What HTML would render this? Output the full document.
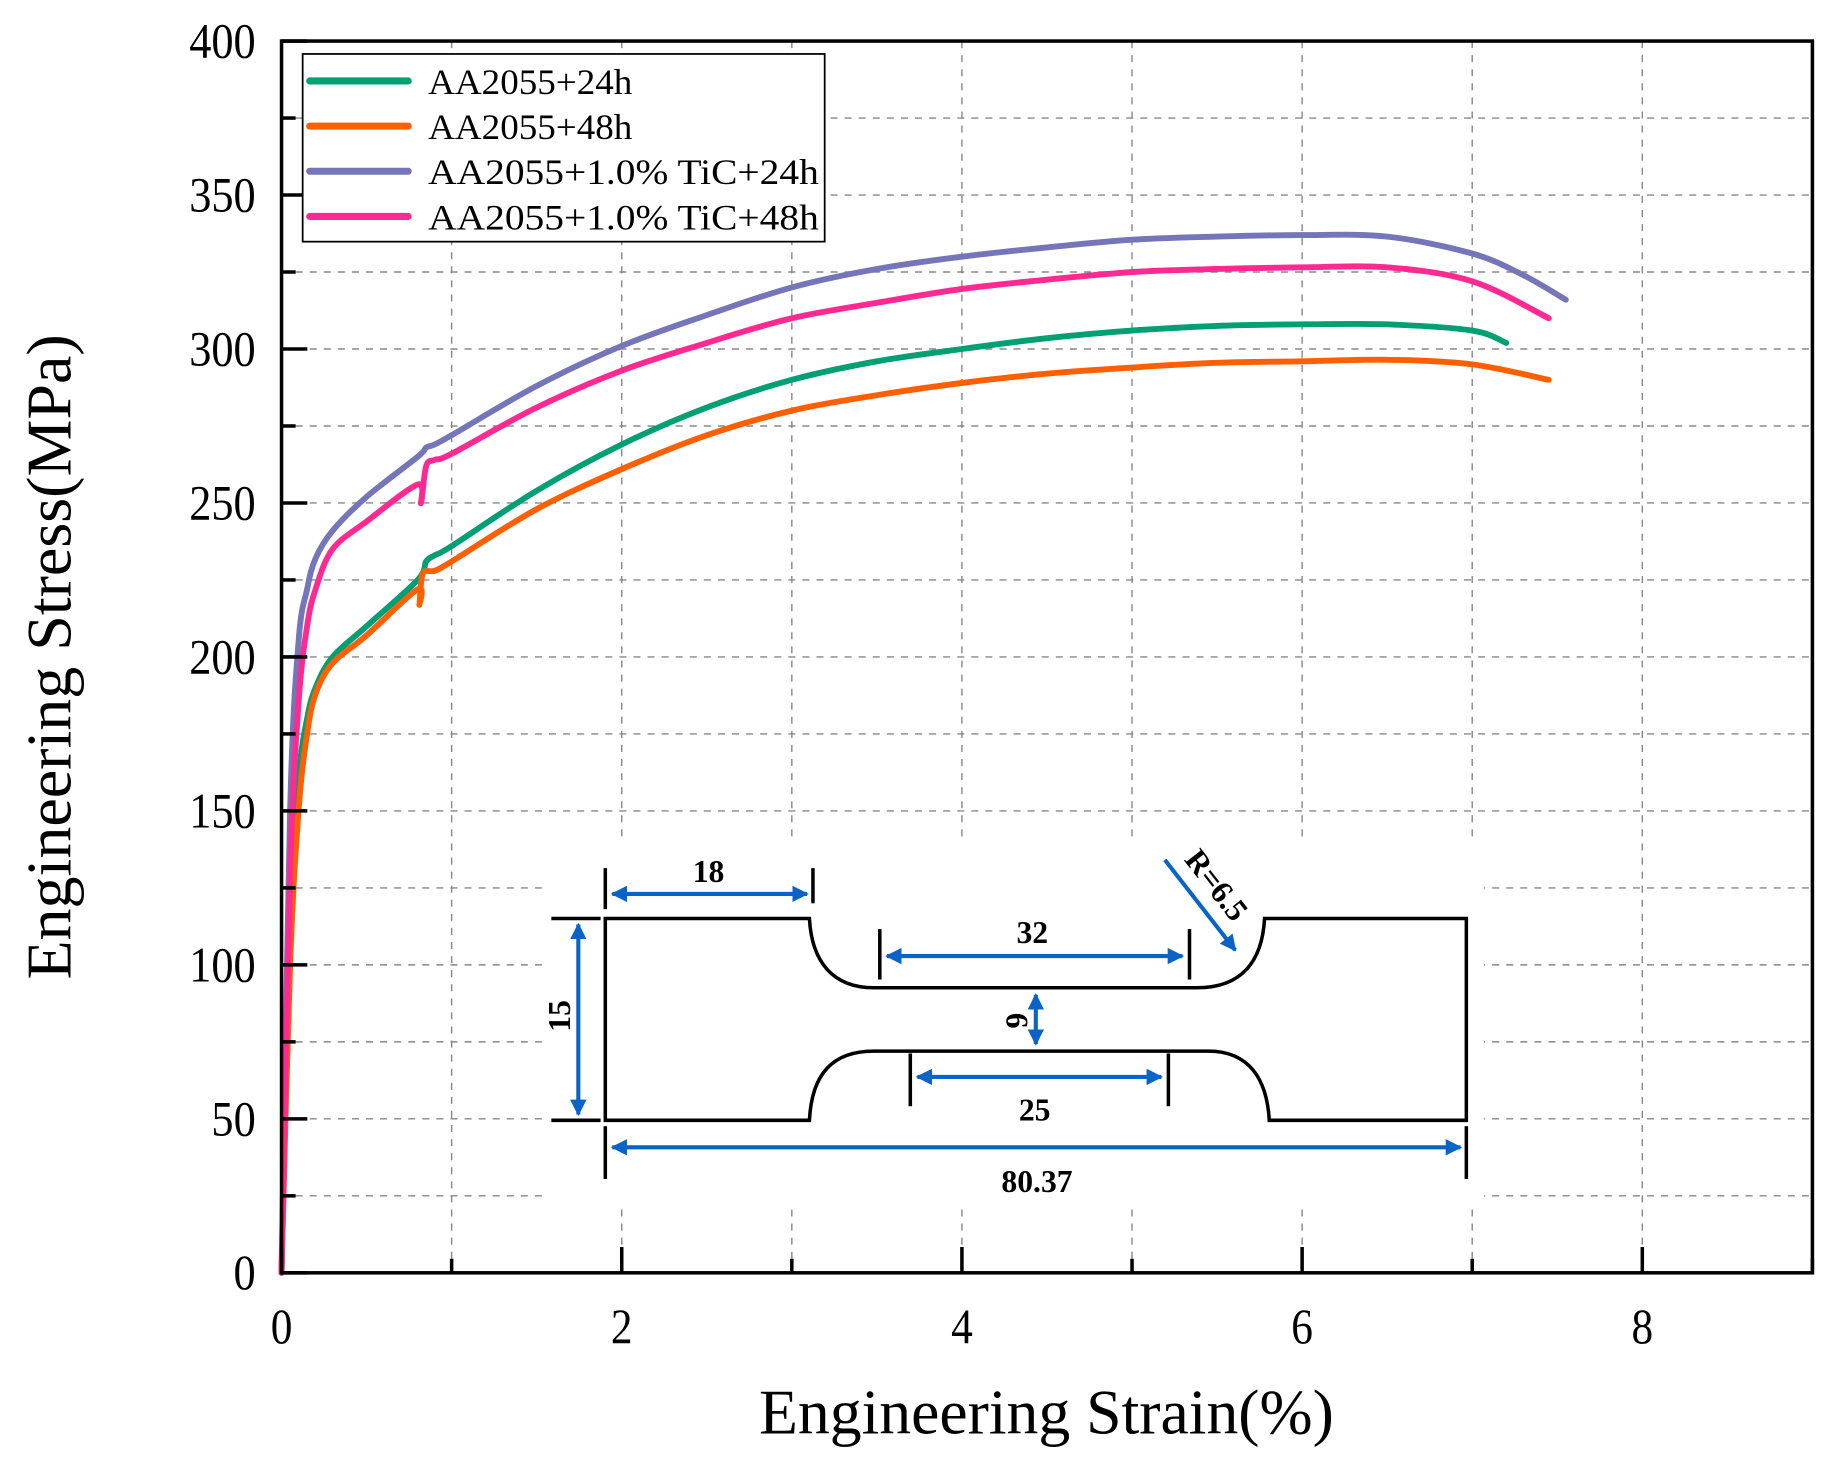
<!DOCTYPE html>
<html><head><meta charset="utf-8"><style>
html,body{margin:0;padding:0;background:#fff}
svg{display:block}
text{font-family:"Liberation Serif",serif}
</style></head><body>
<svg id="chart" width="1830" height="1457" viewBox="0 0 1560 1242" preserveAspectRatio="none" xmlns="http://www.w3.org/2000/svg">
<defs>
<marker id="ah" viewBox="0 0 10 10" refX="9" refY="5" markerWidth="4" markerHeight="4" orient="auto-start-reverse"><path d="M0 0 L10 5 L0 10 Z" fill="#0a64c8"/></marker>
</defs>
<rect width="1560" height="1242" fill="#fff"/>
<g id="grid"></g>
<g id="inset">
<rect x="462" y="715" width="803" height="310" fill="#fff"/>
<g fill="none" stroke="#000" stroke-width="3">
<path d="M516 783 V955 H690 C692 915 710 896 745 896 H1030 C1065 896 1080 920 1082 955 H1250 V783 H1078 C1076 818 1060 842 1020 842 H745 C710 842 692 820 690 783 Z"/>
<line x1="516" y1="740" x2="516" y2="775"/><line x1="693" y1="740" x2="693" y2="770"/>
<line x1="470" y1="783" x2="512" y2="783"/><line x1="470" y1="955" x2="512" y2="955"/>
<line x1="750" y1="792" x2="750" y2="835"/><line x1="1014" y1="792" x2="1014" y2="835"/>
<line x1="776" y1="898" x2="776" y2="943"/><line x1="996" y1="898" x2="996" y2="943"/>
<line x1="516" y1="960" x2="516" y2="1005"/><line x1="1250" y1="960" x2="1250" y2="1005"/>
</g>
<g stroke="#0a64c8" stroke-width="3.5" fill="none" marker-start="url(#ah)" marker-end="url(#ah)">
<line x1="522" y1="762" x2="688" y2="762"/>
<line x1="493" y1="788" x2="493" y2="950"/>
<line x1="756" y1="815" x2="1008" y2="815"/>
<line x1="883" y1="848" x2="883" y2="890"/>
<line x1="782" y1="918" x2="990" y2="918"/>
<line x1="522" y1="978" x2="1245" y2="978"/>
</g>
<line x1="993" y1="733" x2="1053" y2="810" stroke="#0a64c8" stroke-width="3.5" marker-end="url(#ah)"/>
<g font-weight="bold" font-size="27" text-anchor="middle" fill="#000">
<text x="604" y="752">18</text>
<text x="880" y="804">32</text>
<text x="882" y="955">25</text>
<text x="884" y="1016">80.37</text>
<text transform="translate(486,866) rotate(-90)">15</text>
<text transform="translate(858,870) rotate(90)">6</text>
<text transform="translate(1030,760) rotate(52)">R=6.5</text>
</g>
</g>
<g id="series"></g>
<g id="axes"></g>
<g id="legend">
<rect x="258" y="46" width="445" height="160" fill="#fff" stroke="#000" stroke-width="1.5"/>
</g>
</svg>
<script>
const categoriesX=[0,2,4,6,8];
const ticksY=[0,50,100,150,200,250,300,350,400];
const seriesNames=["AA2055+24h","AA2055+48h","AA2055+1.0% TiC+24h","AA2055+1.0% TiC+48h"];
const seriesColors=["#009f74","#ff5f00","#7575b9","#ff2a91"];
const greenX=[0,0.05,0.1,0.15,0.2,0.3,0.5,0.8,0.85,0.9,1,1.5,2,2.5,3,3.5,4,4.5,5,5.5,6,6.5,7,7.2];
const greenY=[0,110,160,180,190,200,210,225,231,233,236,254,269,281,290,296,300,303.5,306,307.5,308,308,306,302];
const orangeX=[0,0.05,0.1,0.15,0.2,0.3,0.5,0.8,0.81,0.83,0.9,1,1.5,2,2.5,3,3.5,4,4.5,5,5.5,6,6.5,7,7.45];
const orangeY=[0,100,150,175,188,198,207,222,217,227,228,231,248,261,272,280,285,289,292,294,295.5,296,296.5,295,290];
const purpleX=[0,0.05,0.1,0.15,0.2,0.3,0.5,0.8,0.85,0.9,1,1.5,2,2.5,3,3.5,4,4.5,5,5.5,6,6.5,7,7.3,7.55];
const purpleY=[0,150,205,222,232,241,252,265,268,269,272,288,301,311,320,326,330,333,335.5,336.5,337,336.5,331,324,316];
const pinkX=[0,0.05,0.1,0.15,0.2,0.3,0.5,0.8,0.82,0.85,0.9,1,1.5,2,2.5,3,3.5,4,4.5,5,5.5,6,6.5,7,7.45];
const pinkY=[0,130,185,210,222,235,244,256,250,262,264,266,281,293,302,310,315,319.5,322.5,325,326,326.5,326.5,322,310];

const NS="http://www.w3.org/2000/svg";
const L=240,R=1545,T=35,B=1085,XMAX=9,YMAX=400;
const sx=v=>L+v/XMAX*(R-L), sy=v=>B-v/YMAX*(B-T);
function mk(tag,attrs,parent){const e=document.createElementNS(NS,tag);for(const k in attrs)e.setAttribute(k,attrs[k]);parent.appendChild(e);return e;}
const grid=document.getElementById('grid'),axes=document.getElementById('axes'),ser=document.getElementById('series'),leg=document.getElementById('legend');
for(let v=1;v<XMAX;v++){const g=mk('line',{x1:sx(v),x2:sx(v),y1:T,y2:B,stroke:'#888','stroke-width':1.2,'stroke-dasharray':'6,6'},grid);

}
for(let v=25;v<YMAX;v+=25){const g=mk('line',{x1:L,x2:R,y1:sy(v),y2:sy(v),stroke:'#888','stroke-width':1.2,'stroke-dasharray':'6,6'},grid);

}
function smooth(P){let d='M'+P[0][0].toFixed(1)+' '+P[0][1].toFixed(1);
for(let i=0;i<P.length-1;i++){const p0=P[Math.max(0,i-1)],p1=P[i],p2=P[i+1],p3=P[Math.min(P.length-1,i+2)];
const c1=[p1[0]+(p2[0]-p0[0])/6,p1[1]+(p2[1]-p0[1])/6],c2=[p2[0]-(p3[0]-p1[0])/6,p2[1]-(p3[1]-p1[1])/6];
d+=' C'+c1.map(v=>v.toFixed(1)).join(' ')+' '+c2.map(v=>v.toFixed(1)).join(' ')+' '+p2[0].toFixed(1)+' '+p2[1].toFixed(1);}
return d;}
const all=[[greenX,greenY],[orangeX,orangeY],[purpleX,purpleY],[pinkX,pinkY]];
all.forEach((s,i)=>{const P=s[0].map((x,j)=>[sx(x),sy(s[1][j])]);
const p=mk('path',{d:smooth(P),fill:'none',stroke:seriesColors[i],'stroke-width':5,'stroke-linejoin':'round','stroke-linecap':'round'},ser);

});
const frame=mk('rect',{x:L,y:T,width:R-L,height:B-T,fill:'none',stroke:'#000','stroke-width':3},axes);


for(let v=0;v<=XMAX;v++){const major=v%2==0;mk('line',{x1:sx(v),x2:sx(v),y1:B,y2:B-(major?22:12),stroke:'#000','stroke-width':3},axes);}
categoriesX.forEach(v=>{const t=mk('text',{x:sx(v),y:B+60,'font-size':42,'text-anchor':'middle',transform:'translate('+sx(v)+' 0) scale(0.88 1) translate('+(-sx(v))+' 0)'},axes);t.textContent=v;

});
for(let v=0;v<=YMAX;v+=25){const major=v%50==0;mk('line',{x1:L,x2:L+(major?22:12),y1:sy(v),y2:sy(v),stroke:'#000','stroke-width':3},axes);}
ticksY.forEach(v=>{const t=mk('text',{x:L-22,y:sy(v)+14,'font-size':42,'text-anchor':'end',transform:'translate('+(L-22)+' 0) scale(0.9 1) translate('+(-(L-22))+' 0)'},axes);t.textContent=v;

});
const xt=mk('text',{x:892,y:1222,'font-size':54,'text-anchor':'middle',textLength:490,lengthAdjust:'spacingAndGlyphs'},axes);xt.textContent='Engineering Strain(%)';


const yt=mk('text',{transform:'translate(60,560) rotate(-90)','font-size':54,'text-anchor':'middle',textLength:550,lengthAdjust:'spacingAndGlyphs'},axes);yt.textContent='Engineering Stress(MPa)';


seriesNames.forEach((n,i)=>{const y=69+i*38.5;
const ln=mk('line',{x1:264,x2:348,y1:y,y2:y,stroke:seriesColors[i],'stroke-width':6,'stroke-linecap':'round'},leg);


const t=mk('text',{x:365,y:y+11,'font-size':31,textLength:n.length>12?333:174,lengthAdjust:'spacingAndGlyphs'},leg);t.textContent=n;

});
</script>
</body></html>
